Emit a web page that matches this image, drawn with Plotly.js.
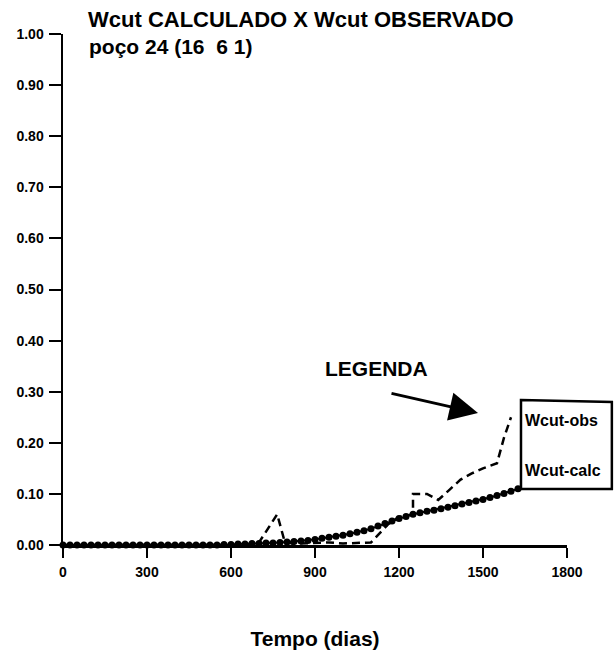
<!DOCTYPE html>
<html>
<head>
<meta charset="utf-8">
<script src="https://cdn.plot.ly/plotly-3.0.1.min.js"></script>
<style>html,body{margin:0;padding:0;background:#fff;}#chart{width:614px;height:660px;}</style>
</head>
<body>
<div id="chart"></div>
<script>
// Wcut calculado (simulation, every 25 days)
const calcDays = [0,25,50,75,100,125,150,175,200,225,250,275,300,325,350,375,400,425,450,475,500,525,550,
  575,600,625,650,675,700,725,750,775,800,825,850,875,900,925,950,975,1000,1025,1050,1075,1100,1125,1150,1175,
  1200,1225,1250,1275,1300,1325,1350,1375,1400,1425,1450,1475,1500,1525,1550,1575,1600,1625];
const calcWcut = [0,0,0,0,0,0,0,0,0,0,0,0,0,0,0,0,0,0,0,0,0,0,0,
  0.001,0.001,0.002,0.002,0.003,0.003,0.004,0.004,0.005,0.006,0.007,0.008,0.009,0.011,0.013,0.015,0.017,0.019,0.022,0.025,0.028,0.032,0.037,0.042,0.047,
  0.052,0.056,0.060,0.063,0.066,0.068,0.071,0.074,0.077,0.080,0.083,0.086,0.089,0.093,0.097,0.101,0.105,0.110];
// Wcut observado
const obsDays = [0,650,700,735,765,790,820,850,950,1000,1100,1160,1200,1250,1250,1300,1340,1380,1420,1460,1500,1550,1575,1600];
const obsWcut = [0,0,0.005,0.035,0.06,0.01,0.002,0.003,0.005,0.003,0.005,0.04,0.055,0.06,0.10,0.10,0.088,0.108,0.128,0.14,0.15,0.16,0.21,0.25];
const xTicks = [0,300,600,900,1200,1500,1800];
const yTicks = [0,0.1,0.2,0.3,0.4,0.5,0.6,0.7,0.8,0.9,1.0];

const F = '"Liberation Sans", Arial, Helvetica, sans-serif';
const traces = [
  {x: obsDays, y: obsWcut, mode: 'lines', name: 'Wcut-obs', cliponaxis: false,
   line: {color: '#000', width: 2.5, dash: '8px,5px'}},
  {x: calcDays, y: calcWcut, mode: 'lines+markers', name: 'Wcut-calc', cliponaxis: false,
   line: {color: '#000', width: 2}, marker: {color: '#000', size: 7}}
];
const layout = {
  width: 614, height: 660,
  margin: {l: 63, r: 47, t: 34, b: 115},
  paper_bgcolor: '#fff', plot_bgcolor: '#fff',
  showlegend: false,
  font: {family: F, color: '#000'},
  title: {text: '<b>Wcut CALCULADO X Wcut OBSERVADO</b>', font: {size: 22, family: F, color: '#000'},
          xref: 'container', yref: 'container', x: 88/614, xanchor: 'left', y: 1 - 12/660, yanchor: 'top'},
  xaxis: {range: [0, 1800], tickvals: xTicks, ticktext: xTicks.map(String),
          showline: true, linecolor: '#000', linewidth: 2.5, ticks: 'outside', ticklen: 10, tickwidth: 2.5, tickcolor: '#000',
          ticklabelstandoff: 3,
          showgrid: false, zeroline: false, tickfont: {size: 14, family: F, weight: 'bold'},
          title: {text: '<b>Tempo (dias)</b>', font: {size: 21, family: F}, standoff: 52}},
  yaxis: {range: [0, 1], tickvals: yTicks, tickformat: '.2f',
          showline: true, linecolor: '#000', linewidth: 2.5, ticks: 'outside', ticklen: 12, tickwidth: 2, tickcolor: '#000',
          ticklabelstandoff: 2,
          showgrid: false, zeroline: false, tickfont: {size: 14, family: F, weight: 'bold'}},
  shapes: [
    {type: 'path', xref: 'paper', yref: 'paper',
     path: 'M 0.9087 0.2838 L 1.089 0.2800 L 1.089 0.1096 L 0.9087 0.1096 Z',
     line: {color: '#000', width: 2.5}, fillcolor: 'rgba(0,0,0,0)'}
  ],
  annotations: [
    {text: '<b>poço 24 (16\u00a0 6 1)</b>', xref: 'paper', yref: 'paper', x: (87-63)/504, y: (545-34+1)/511,
     xanchor: 'left', yanchor: 'top', showarrow: false, font: {size: 21, family: F}},
    {text: '<b>LEGENDA</b>', xref: 'paper', yref: 'paper', x: (376-63)/504, y: (545-368)/511,
     xanchor: 'center', yanchor: 'middle', showarrow: false, font: {size: 21, family: F}},
    {text: '', xref: 'paper', yref: 'paper', x: (478-63)/504, y: (545-413)/511, ax: -88, ay: -20,
     showarrow: true, arrowhead: 2, arrowsize: 1.9, arrowwidth: 3, arrowcolor: '#000'},
    {text: '<b>Wcut-obs</b>', xref: 'paper', yref: 'paper', x: (523-63)/504, y: (545-420)/511,
     xanchor: 'left', yanchor: 'middle', showarrow: false, font: {size: 16, family: F}},
    {text: '<b>Wcut-calc</b>', xref: 'paper', yref: 'paper', x: (523-63)/504, y: (545-470)/511,
     xanchor: 'left', yanchor: 'middle', showarrow: false, font: {size: 16, family: F}}
  ]
};
Plotly.newPlot('chart', traces, layout, {displayModeBar: false, staticPlot: true});
</script>
</body>
</html>
